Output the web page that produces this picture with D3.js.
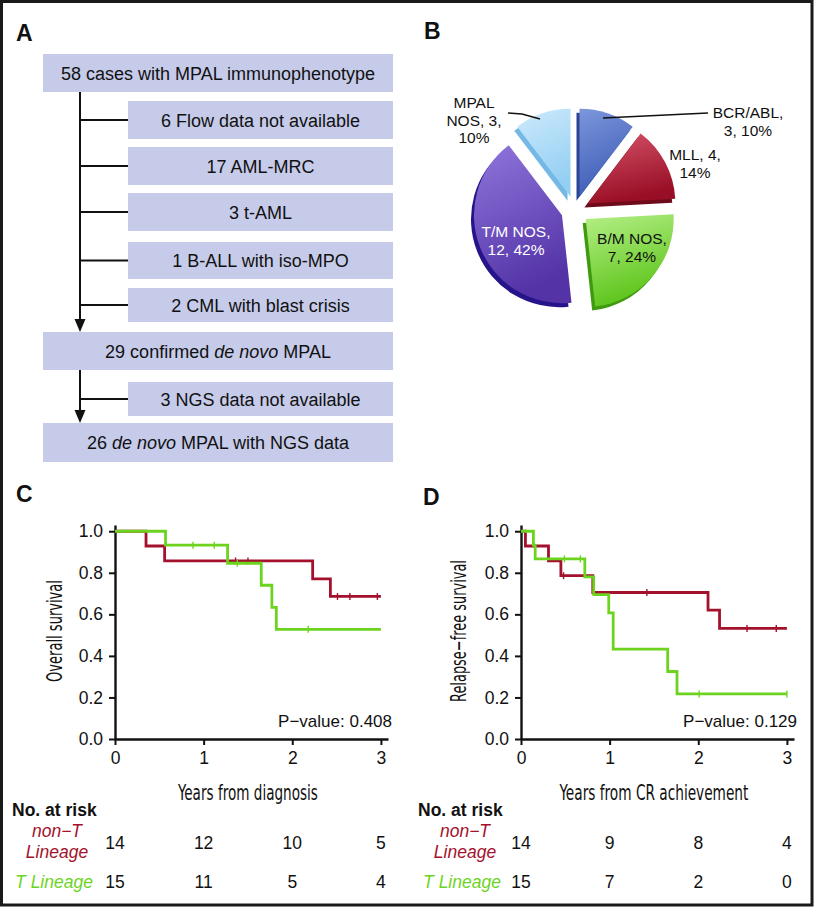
<!DOCTYPE html>
<html><head><meta charset="utf-8">
<script src="https://cdn.jsdelivr.net/npm/d3@7"></script>
<style>
html,body{margin:0;padding:0;background:#fff;}
svg{display:block;}
text{font-family:"Liberation Sans", Arial, Helvetica, sans-serif;fill:#111;}
.cond{font-family:"Liberation Sans Narrow","DejaVu Sans Condensed","Arial Narrow",sans-serif;font-stretch:condensed;}
</style></head><body>
<svg id="fig" width="815" height="907"></svg>
<script>
// ================= DATA =================
// Panel A: flow chart
const flowLabels = [
  "58 cases with MPAL immunophenotype",
  "6 Flow data not available",
  "17 AML-MRC",
  "3 t-AML",
  "1 B-ALL with iso-MPO",
  "2 CML with blast crisis",
  "29 confirmed *de novo* MPAL",
  "3 NGS data not available",
  "26 *de novo* MPAL with NGS data"
];
const flowIsExclusion = [false, true, true, true, true, true, false, true, false];

// Panel B: pie chart
const pieCategories = ["BCR/ABL", "MLL", "B/M NOS", "T/M NOS", "MPAL NOS"];
const pieCounts = [3, 4, 7, 12, 3];
const piePercents = [10, 14, 24, 42, 10];

// Panel C: overall survival (Kaplan-Meier), years from diagnosis
const osNonT_time = [0, 0.35, 0.56, 2.23, 2.43, 3.0];
const osNonT_surv = [1, 0.929, 0.857, 0.771, 0.686, 0.686];
const osNonT_censor = [1.36, 1.50, 2.51, 2.65, 2.96];
const osT_time = [0, 0.57, 1.27, 1.65, 1.77, 1.82, 3.0];
const osT_surv = [1, 0.933, 0.846, 0.74, 0.634, 0.528, 0.528];
const osT_censor = [0.88, 1.12, 1.38, 2.18];
const osPValue = "0.408";

// Panel D: relapse-free survival, years from CR achievement
const rfsNonT_time = [0, 0.05, 0.31, 0.45, 0.81, 2.11, 2.24, 3.0];
const rfsNonT_surv = [1, 0.929, 0.857, 0.786, 0.705, 0.620, 0.532, 0.532];
const rfsNonT_censor = [0.48, 1.42, 2.55, 2.88];
const rfsT_time = [0, 0.14, 0.16, 0.72, 0.82, 0.99, 1.04, 1.655, 1.76, 3.0];
const rfsT_surv = [1, 0.933, 0.867, 0.78, 0.695, 0.607, 0.433, 0.325, 0.217, 0.217];
const rfsT_censor = [0.49, 0.67, 2.01, 3.0];
const rfsPValue = "0.129";

// Number at risk
const riskTimes = [0, 1, 2, 3];
const osRiskNonT = [14, 12, 10, 5];
const osRiskT = [15, 11, 5, 4];
const rfsRiskNonT = [14, 9, 8, 4];
const rfsRiskT = [15, 7, 2, 0];

const xTicks = [0, 1, 2, 3];
const yTicks = [0, 0.2, 0.4, 0.6, 0.8, 1.0];

// ================= STYLE / LAYOUT =================
const RED = "#a3112c", GREEN = "#6cd41f", BOX = "#c6cbea";
const svg = d3.select("#fig");
svg.append("rect").attr("x",1.5).attr("y",1.5).attr("width",810.5).attr("height",903.5)
  .attr("fill","#fff").attr("stroke","#1a1a1a").attr("stroke-width",3);

function panelLabel(t, x, y){
  svg.append("text").attr("x",x).attr("y",y).attr("font-size",23).attr("font-weight","bold").text(t);
}
panelLabel("A",16,41); panelLabel("B",424,39); panelLabel("C",16,502); panelLabel("D",423,505);

// ---------- Panel A ----------
const boxTop = [54,101,147,193,242,288,332,382,423];
const boxH   = [38,38,38,38,37,34,38,34,39];
const mainX0 = 43, exclX0 = 128, boxX1 = 393, connX = 80;
const gA = svg.append("g");
flowLabels.forEach((lab,i)=>{
  const x0 = flowIsExclusion[i] ? exclX0 : mainX0;
  gA.append("rect").attr("x",x0).attr("y",boxTop[i]).attr("width",boxX1-x0).attr("height",boxH[i]).attr("fill",BOX);
  const t = gA.append("text").attr("x",(x0+boxX1)/2).attr("y",boxTop[i]+boxH[i]/2+6.5)
    .attr("text-anchor","middle").attr("font-size",18);
  lab.split("*").forEach((seg,k)=>{
    if(seg.length) t.append("tspan").attr("font-style", k%2 ? "italic":"normal").text(seg);
  });
});
function arrowDown(x, y0, yTip){
  gA.append("line").attr("x1",x).attr("x2",x).attr("y1",y0).attr("y2",yTip-10).attr("stroke","#111").attr("stroke-width",2);
  gA.append("path").attr("d",`M${x-5.5},${yTip-13}L${x+5.5},${yTip-13}L${x},${yTip}Z`).attr("fill","#111");
}
arrowDown(connX, boxTop[0]+boxH[0], boxTop[6]);
arrowDown(connX, boxTop[6]+boxH[6], boxTop[8]);
flowLabels.forEach((lab,i)=>{
  if(!flowIsExclusion[i]) return;
  const yc = boxTop[i]+boxH[i]/2;
  gA.append("line").attr("x1",connX).attr("x2",exclX0).attr("y1",yc).attr("y2",yc).attr("stroke","#111").attr("stroke-width",2);
});

// ---------- Panel B ----------
const pieCx = 575, pieCy = 210, pieR = 88, explode = 14;
const sliceTop  = ["#7d97dc","#d65469","#b6ef88","#8f76dc","#cdeafc"];
const sliceBot  = ["#3d5cb6","#980e25","#5cc419","#5333a6","#93cff2"];
const sliceSide = ["#2a4496","#6e0a1a","#3f9a10","#26148a","#74b8e6"];
const defs = svg.append("defs");
sliceTop.forEach((c,i)=>{
  const lg = defs.append("linearGradient").attr("id","pg"+i).attr("x1",0).attr("y1",0).attr("x2",0.3).attr("y2",1);
  lg.append("stop").attr("offset","0%").attr("stop-color",c);
  lg.append("stop").attr("offset","100%").attr("stop-color",sliceBot[i]);
});
const pieArcs = d3.pie().sort(null).value(d=>d)(pieCounts);
const arcGen = d3.arc().innerRadius(0).outerRadius(pieR);
const gB = svg.append("g");
const off = pieArcs.map(p=>{ const m=(p.startAngle+p.endAngle)/2; return [Math.sin(m)*explode, -Math.cos(m)*explode]; });
pieArcs.forEach((p,i)=>{
  gB.append("path").attr("d",arcGen(p)).attr("fill",sliceSide[i])
    .attr("transform",`translate(${pieCx+off[i][0]-3},${pieCy+off[i][1]+4})`);
});
pieArcs.forEach((p,i)=>{
  gB.append("path").attr("d",arcGen(p)).attr("fill",`url(#pg${i})`)
    .attr("transform",`translate(${pieCx+off[i][0]},${pieCy+off[i][1]})`);
});
// labels
const pieLabelPos = [[748,118],[695,160],[632,244],[516,237],[474,108]];
function pieLines(i){
  const l = pieCategories[i], c = pieCounts[i], p = piePercents[i];
  if(i===0) return [l+",", `${c}, ${p}%`];
  if(i===1) return [`${l}, ${c},`, `${p}%`];
  if(i===4){ const w = l.split(" "); return [w[0], `${w[1]}, ${c},`, `${p}%`]; }
  return [l+",", `${c}, ${p}%`];
}
pieCategories.forEach((c,i)=>{
  const t = gB.append("text").attr("text-anchor","middle").attr("font-size",15.5)
    .attr("x",pieLabelPos[i][0]).attr("y",pieLabelPos[i][1]).style("fill", i===3 ? "#fff" : "#111");
  pieLines(i).forEach((ln,k)=> t.append("tspan").attr("x",pieLabelPos[i][0]).attr("dy", k? 17.5:0).text(ln));
});
gB.append("path").attr("d","M508,113L522,114L540,119").attr("fill","none").attr("stroke","#111").attr("stroke-width",1.3);
gB.append("path").attr("d","M603,118L708,113").attr("fill","none").attr("stroke","#111").attr("stroke-width",1.3);

// condensed title: fit to a target width by horizontal scaling
function condTitle(g, txt, cx, cy, width, rotate){
  const t = g.append("text").attr("class","cond").attr("text-anchor","middle").attr("font-size",22).text(txt);
  const len = t.node().getComputedTextLength() || width;
  const sx = width/len;
  t.attr("transform", rotate ? `translate(${cx},${cy}) rotate(-90) scale(${sx},1)` : `translate(${cx},${cy}) scale(${sx},1)`);
}

// ---------- Panels C & D ----------
function kmPanel(o){
  const g = svg.append("g");
  const x = d3.scaleLinear().domain([0,3.08]).range([o.x0, o.x0+273]);
  const y = d3.scaleLinear().domain([0,1.03]).range([739, 739-214]);
  const ya = g.append("g").attr("transform",`translate(${o.x0},0)`)
    .call(d3.axisLeft(y).tickValues(yTicks).tickFormat(d3.format(".1f")).tickSize(6).tickSizeOuter(0).tickPadding(6));
  const xa = g.append("g").attr("transform",`translate(0,739)`)
    .call(d3.axisBottom(x).tickValues(xTicks).tickFormat(d3.format("d")).tickSize(6).tickSizeOuter(0).tickPadding(7));
  [ya,xa].forEach(a=>{
    a.select(".domain").attr("stroke","#111").attr("stroke-width",2.4);
    a.selectAll(".tick line").attr("stroke","#111").attr("stroke-width",2);
    a.selectAll(".tick text").attr("font-size",17.5).attr("font-family","Liberation Sans, Arial, sans-serif").style("fill","#111");
  });
  const line = d3.line().x(d=>x(d[0])).y(d=>y(d[1])).curve(d3.curveStepAfter);
  const survAt = (tt,ss,t)=>{ let s=ss[0]; tt.forEach((v,i)=>{ if(v<=t) s=ss[i]; }); return s; };
  o.curves.forEach(c=>{
    g.append("path").attr("d",line(c.t.map((v,i)=>[v,c.s[i]]))).attr("fill","none")
      .attr("stroke",c.color).attr("stroke-width",2.8).attr("stroke-linejoin","miter");
    c.censor.forEach(ct=>{
      const cy = y(survAt(c.t,c.s,ct));
      g.append("line").attr("x1",x(ct)).attr("x2",x(ct)).attr("y1",cy-3.5).attr("y2",cy+3.5)
        .attr("stroke",c.color).attr("stroke-width",1.4);
    });
  });
  g.append("text").attr("x",o.pvX).attr("y",727).attr("text-anchor","end").attr("font-size",17).text("P\u2212value: "+o.p);
  condTitle(g, o.xTitle, x(1.5), 800, o.xtLen, false);
  condTitle(g, o.yTitle, o.ytX, 631, o.ytLen, true);
  // number at risk
  g.append("text").attr("x",o.riskX).attr("y",816).attr("font-size",17.5).attr("font-weight","bold").text("No. at risk");
  g.append("text").attr("x",o.grpX).attr("y",837).attr("text-anchor","middle").attr("font-size",17.5).attr("font-style","italic").style("fill",RED).text("non\u2212T");
  g.append("text").attr("x",o.grpX).attr("y",858).attr("text-anchor","middle").attr("font-size",17.5).attr("font-style","italic").style("fill",RED).text("Lineage");
  g.append("text").attr("x",o.grpX-3).attr("y",888).attr("text-anchor","middle").attr("font-size",17.5).attr("font-style","italic").style("fill",GREEN).text("T Lineage");
  riskTimes.forEach((t,i)=>{
    g.append("text").attr("x",x(t)).attr("y",849).attr("text-anchor","middle").attr("font-size",17.5).text(o.riskNonT[i]);
    g.append("text").attr("x",x(t)).attr("y",888).attr("text-anchor","middle").attr("font-size",17.5).text(o.riskT[i]);
  });
}
kmPanel({x0:115, pvX:392, p:osPValue, xTitle:"Years from diagnosis", xtLen:140, yTitle:"Overall survival", ytX:62, ytLen:102,
  riskX:12, grpX:57, riskNonT:osRiskNonT, riskT:osRiskT,
  curves:[{t:osNonT_time,s:osNonT_surv,censor:osNonT_censor,color:RED},{t:osT_time,s:osT_surv,censor:osT_censor,color:GREEN}]});
kmPanel({x0:521, pvX:797, p:rfsPValue, xTitle:"Years from CR achievement", xtLen:189, yTitle:"Relapse\u2212free survival", ytX:466, ytLen:142,
  riskX:418, grpX:465, riskNonT:rfsRiskNonT, riskT:rfsRiskT,
  curves:[{t:rfsNonT_time,s:rfsNonT_surv,censor:rfsNonT_censor,color:RED},{t:rfsT_time,s:rfsT_surv,censor:rfsT_censor,color:GREEN}]});
</script>
</body></html>
